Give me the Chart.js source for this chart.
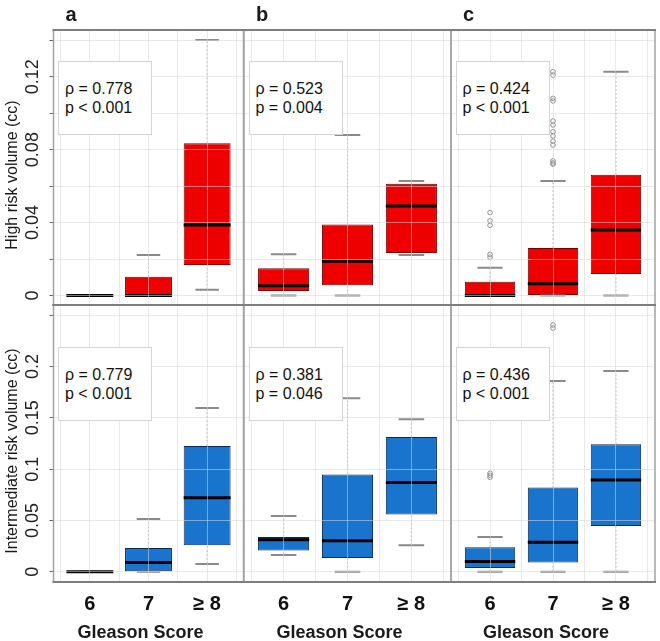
<!DOCTYPE html>
<html><head><meta charset="utf-8">
<script src="https://cdn.jsdelivr.net/npm/chart.js@4/dist/chart.umd.min.js"></script>
<style>
html,body{margin:0;padding:0;background:#fff;}
#wrap{position:relative;width:660px;height:641px;overflow:hidden;font-family:"Liberation Sans",Arial,sans-serif;}
#wrap canvas{position:absolute;left:0;top:0;}
.lbl{position:absolute;white-space:nowrap;color:#1a1a1a;line-height:1;}
.letter{font-weight:bold;font-size:20px;}
.ytitle{font-size:16px;transform:translate(-50%,-50%) rotate(-90deg);}
.xtitle{font-size:18px;font-weight:bold;transform:translate(-50%,-50%);}
.stat{position:absolute;background:#fff;border:1px solid #d4d4d4;box-sizing:border-box;font-size:16px;line-height:19px;padding:17px 0 0 6px;color:#111;white-space:nowrap;}
</style></head>
<body><div id="wrap"></div>
<script>
// ---------------- data ----------------
const categories = ['6', '7', '≥ 8'];
const catPos = [1, 2, 3];
// each row: [lower whisker, Q1, median, Q3, upper whisker] for categories 6, 7, >=8
const highRiskA = [[0, 0, 0, 0, 0], [0, 0, 0, 0.0103, 0.0222], [0.0032, 0.0167, 0.0387, 0.0835, 0.1401]];
const highRiskB = [[0, 0.0025, 0.0054, 0.0149, 0.0226], [0, 0.0056, 0.0188, 0.039, 0.088], [0.0222, 0.0233, 0.0491, 0.0613, 0.0628]];
const highRiskC = [[0, 0, 0, 0.0076, 0.0152], [0, 0, 0.0065, 0.026, 0.0628], [0, 0.0118, 0.0359, 0.0662, 0.1227]];
const highRiskOutA = [[], [], []];
const highRiskOutB = [[], [], []];
const highRiskOutC = [[0.021, 0.0225, 0.0385, 0.041, 0.0455], [0.072, 0.0727, 0.0738, 0.0825, 0.0847, 0.0875, 0.0898, 0.0935, 0.0957, 0.1067, 0.1081, 0.1209, 0.1227], []];
const interRiskA = [[0, 0, 0, 0, 0], [0, 0, 0.0089, 0.0231, 0.0514], [0.0075, 0.0257, 0.0722, 0.1225, 0.1596]];
const interRiskB = [[0.0163, 0.0206, 0.0313, 0.0338, 0.0544], [0, 0.0134, 0.0303, 0.0949, 0.169], [0.0257, 0.0557, 0.087, 0.1313, 0.1486]];
const interRiskC = [[0, 0.0036, 0.0099, 0.0238, 0.0338], [0, 0.0089, 0.0287, 0.082, 0.1859], [0, 0.0446, 0.0894, 0.1242, 0.1956]];
const interRiskOutA = [[], [], []];
const interRiskOutB = [[], [], []];
const interRiskOutC = [[0.092, 0.094, 0.096], [0.2375, 0.2405], []];
const rhoValues = ['0.778', '0.523', '0.424', '0.779', '0.381', '0.436'];
const pValues = ['< 0.001', '= 0.004', '< 0.001', '< 0.001', '= 0.046', '< 0.001'];
const yTicksHigh = [0, 0.02, 0.04, 0.06, 0.08, 0.1, 0.12, 0.14];
const yLabelsHigh = [0, 0.04, 0.08, 0.12];
const yTicksInter = [0, 0.05, 0.1, 0.15, 0.2, 0.25];
const yLabelsInter = [0, 0.05, 0.1, 0.15, 0.2];
const xGridTicks = [0.5, 1, 1.5, 2, 2.5, 3, 3.5];
const panelLetters = ['a', 'b', 'c'];
const yTitles = ['High risk volume (cc)', 'Intermediate risk volume (cc)'];
const xTitle = 'Gleason Score';

// ---------------- layout ----------------
const W = 660, H = 641;
const colL = [53.5, 244, 451], colR = [243.5, 451, 657];
const rowT = [30, 305], rowB = [305, 582];
const yRange = [[-0.0052, 0.1456], [-0.01, 0.26]];
const RED = '#EE0000', RED_EDGE = '#7a0000';
const BLUE = '#1874CD', BLUE_EDGE = '#0a2a55';

const wrap = document.getElementById('wrap');

const framePlugin = {
  id: 'frame',
  afterDraw(chart) {
    const {ctx, chartArea: {left, right, top, bottom}} = chart;
    ctx.save();
    ctx.strokeStyle = '#a2a2a2'; ctx.lineWidth = 1.5;
    ctx.beginPath();
    ctx.moveTo(left, top); ctx.lineTo(left, bottom);
    ctx.moveTo(right, top); ctx.lineTo(right, bottom);
    ctx.stroke();
    ctx.strokeStyle = '#7e7e7e'; ctx.lineWidth = 2;
    ctx.beginPath();
    ctx.moveTo(left - 1, top); ctx.lineTo(right + 1, top);
    ctx.moveTo(left - 1, bottom); ctx.lineTo(right + 1, bottom);
    ctx.stroke();
    ctx.restore();
  }
};

function buildDatasets(stats, outs, fill, edge) {
  const medians = [], whiskers = [], caps = [], boxes = [], outliers = [];
  stats.forEach((s, i) => {
    const c = catPos[i];
    const [lo, q1, med, q3, hi] = s;
    boxes.push({x: c, y: [q1, q3]});
    medians.push({x: c - 0.4, y: med}, {x: c + 0.4, y: med}, {x: c + 0.45, y: null});
    whiskers.push({x: c, y: q3}, {x: c, y: hi}, {x: c, y: null}, {x: c, y: lo}, {x: c, y: q1}, {x: c, y: null});
    caps.push({x: c - 0.2, y: hi}, {x: c + 0.2, y: hi}, {x: c + 0.3, y: null},
              {x: c - 0.2, y: lo}, {x: c + 0.2, y: lo}, {x: c + 0.3, y: null});
    outs[i].forEach(v => outliers.push({x: c, y: v}));
  });
  return [
    {type: 'line', order: 0, data: medians, borderColor: '#000', borderWidth: 3, pointRadius: 0, spanGaps: false, borderCapStyle: 'butt'},
    {type: 'line', order: 1, data: outliers, showLine: false, pointRadius: 2.3, pointBorderWidth: 1, pointBorderColor: '#8c8c8c', pointBackgroundColor: 'rgba(0,0,0,0)'},
    {type: 'line', order: 2, data: caps, borderColor: '#8a8a8a', borderWidth: 2, pointRadius: 0, spanGaps: false, borderCapStyle: 'butt'},
    // bar ruler uses the 0.5-unit grid spacing, so 1.6 x 0.5 = 0.8 units box width
    {type: 'bar', order: 3, data: boxes, backgroundColor: fill, borderColor: edge, borderWidth: 1, borderSkipped: false, categoryPercentage: 1, barPercentage: 1.6},
    {type: 'line', order: 4, data: whiskers, borderColor: '#b4b4b4', borderWidth: 1, borderDash: [2, 2], pointRadius: 0, spanGaps: false}
  ];
}

const panels = [
  {row: 0, col: 0, stats: highRiskA, outs: highRiskOutA},
  {row: 0, col: 1, stats: highRiskB, outs: highRiskOutB},
  {row: 0, col: 2, stats: highRiskC, outs: highRiskOutC},
  {row: 1, col: 0, stats: interRiskA, outs: interRiskOutA},
  {row: 1, col: 1, stats: interRiskB, outs: interRiskOutB},
  {row: 1, col: 2, stats: interRiskC, outs: interRiskOutC}
];

const GRID = 'rgba(215,215,215,0.55)';

panels.forEach((p, idx) => {
  const cv = document.createElement('canvas');
  cv.width = W; cv.height = H;
  wrap.appendChild(cv);
  const isLeft = p.col === 0, isBottom = p.row === 1;
  const L = colL[p.col], R = colR[p.col], T = rowT[p.row], B = rowB[p.row];
  const yw = isLeft ? L : 0;
  const xh = isBottom ? 40 : 0;
  const yTicks = p.row === 0 ? yTicksHigh : yTicksInter;
  const yLabels = p.row === 0 ? yLabelsHigh : yLabelsInter;
  const fill = p.row === 0 ? RED : BLUE, edge = p.row === 0 ? RED_EDGE : BLUE_EDGE;
  new Chart(cv, {
    type: 'bar',
    data: {datasets: buildDatasets(p.stats, p.outs, fill, edge)},
    plugins: [framePlugin],
    options: {
      responsive: false, animation: false, devicePixelRatio: 1,
      layout: {padding: {left: L - yw, right: W - R, top: T, bottom: H - B - xh}},
      plugins: {legend: {display: false}, tooltip: {enabled: false}},
      scales: {
        x: {
          type: 'linear', min: 0.38, max: 3.62, offset: false,
          afterBuildTicks: s => { s.ticks = xGridTicks.map(v => ({value: v})); },
          afterFit: s => { s.height = xh; },
          grid: {z: 1, color: GRID, offset: false, drawTicks: false, lineWidth: 1},
          border: {display: false},
          ticks: {
            display: isBottom, autoSkip: false, maxRotation: 0, minRotation: 0, padding: 10,
            font: {family: '"Liberation Sans", Arial, sans-serif', size: 20, weight: 'bold'}, color: '#111',
            callback: v => { const i = catPos.indexOf(v); return i < 0 ? '' : categories[i]; }
          }
        },
        y: {
          type: 'linear', min: yRange[p.row][0], max: yRange[p.row][1],
          afterBuildTicks: s => { s.ticks = yTicks.map(v => ({value: v})); },
          afterFit: s => { s.width = yw; },
          grid: {z: 1, color: GRID, drawTicks: isLeft, tickLength: 4, tickColor: '#666', lineWidth: 1},
          border: {display: false},
          ticks: {
            display: isLeft, autoSkip: false, minRotation: 90, maxRotation: 90, crossAlign: 'center', padding: -1,
            font: {family: '"Liberation Sans", Arial, sans-serif', size: 18}, color: '#222',
            callback: v => yLabels.includes(v) ? String(v) : ''
          }
        }
      }
    }
  });

  // statistics box
  const st = document.createElement('div');
  st.className = 'stat';
  st.style.left = (L + 4.5) + 'px';
  st.style.top = (p.row === 0 ? 60.5 : 347) + 'px';
  st.style.width = '94px';
  st.style.height = '74px';
  st.innerHTML = 'ρ = ' + rhoValues[idx] + '<br>p ' + pValues[idx];
  wrap.appendChild(st);
});

// panel letters
panelLetters.forEach((t, i) => {
  const d = document.createElement('div');
  d.className = 'lbl letter';
  d.textContent = t;
  d.style.left = (colL[i] + 12) + 'px';
  d.style.top = '4px';
  wrap.appendChild(d);
});
// y axis titles
yTitles.forEach((t, r) => {
  const d = document.createElement('div');
  d.className = 'lbl ytitle';
  d.textContent = t;
  d.style.left = '12px';
  d.style.top = ((rowT[r] + rowB[r]) / 2 + 7) + 'px';
  wrap.appendChild(d);
});
// x axis titles
[0, 1, 2].forEach(c => {
  const d = document.createElement('div');
  d.className = 'lbl xtitle';
  d.textContent = xTitle;
  d.style.left = ((colL[c] + colR[c]) / 2 - 8) + 'px';
  d.style.top = '632px';
  wrap.appendChild(d);
});
</script>
</body></html>
